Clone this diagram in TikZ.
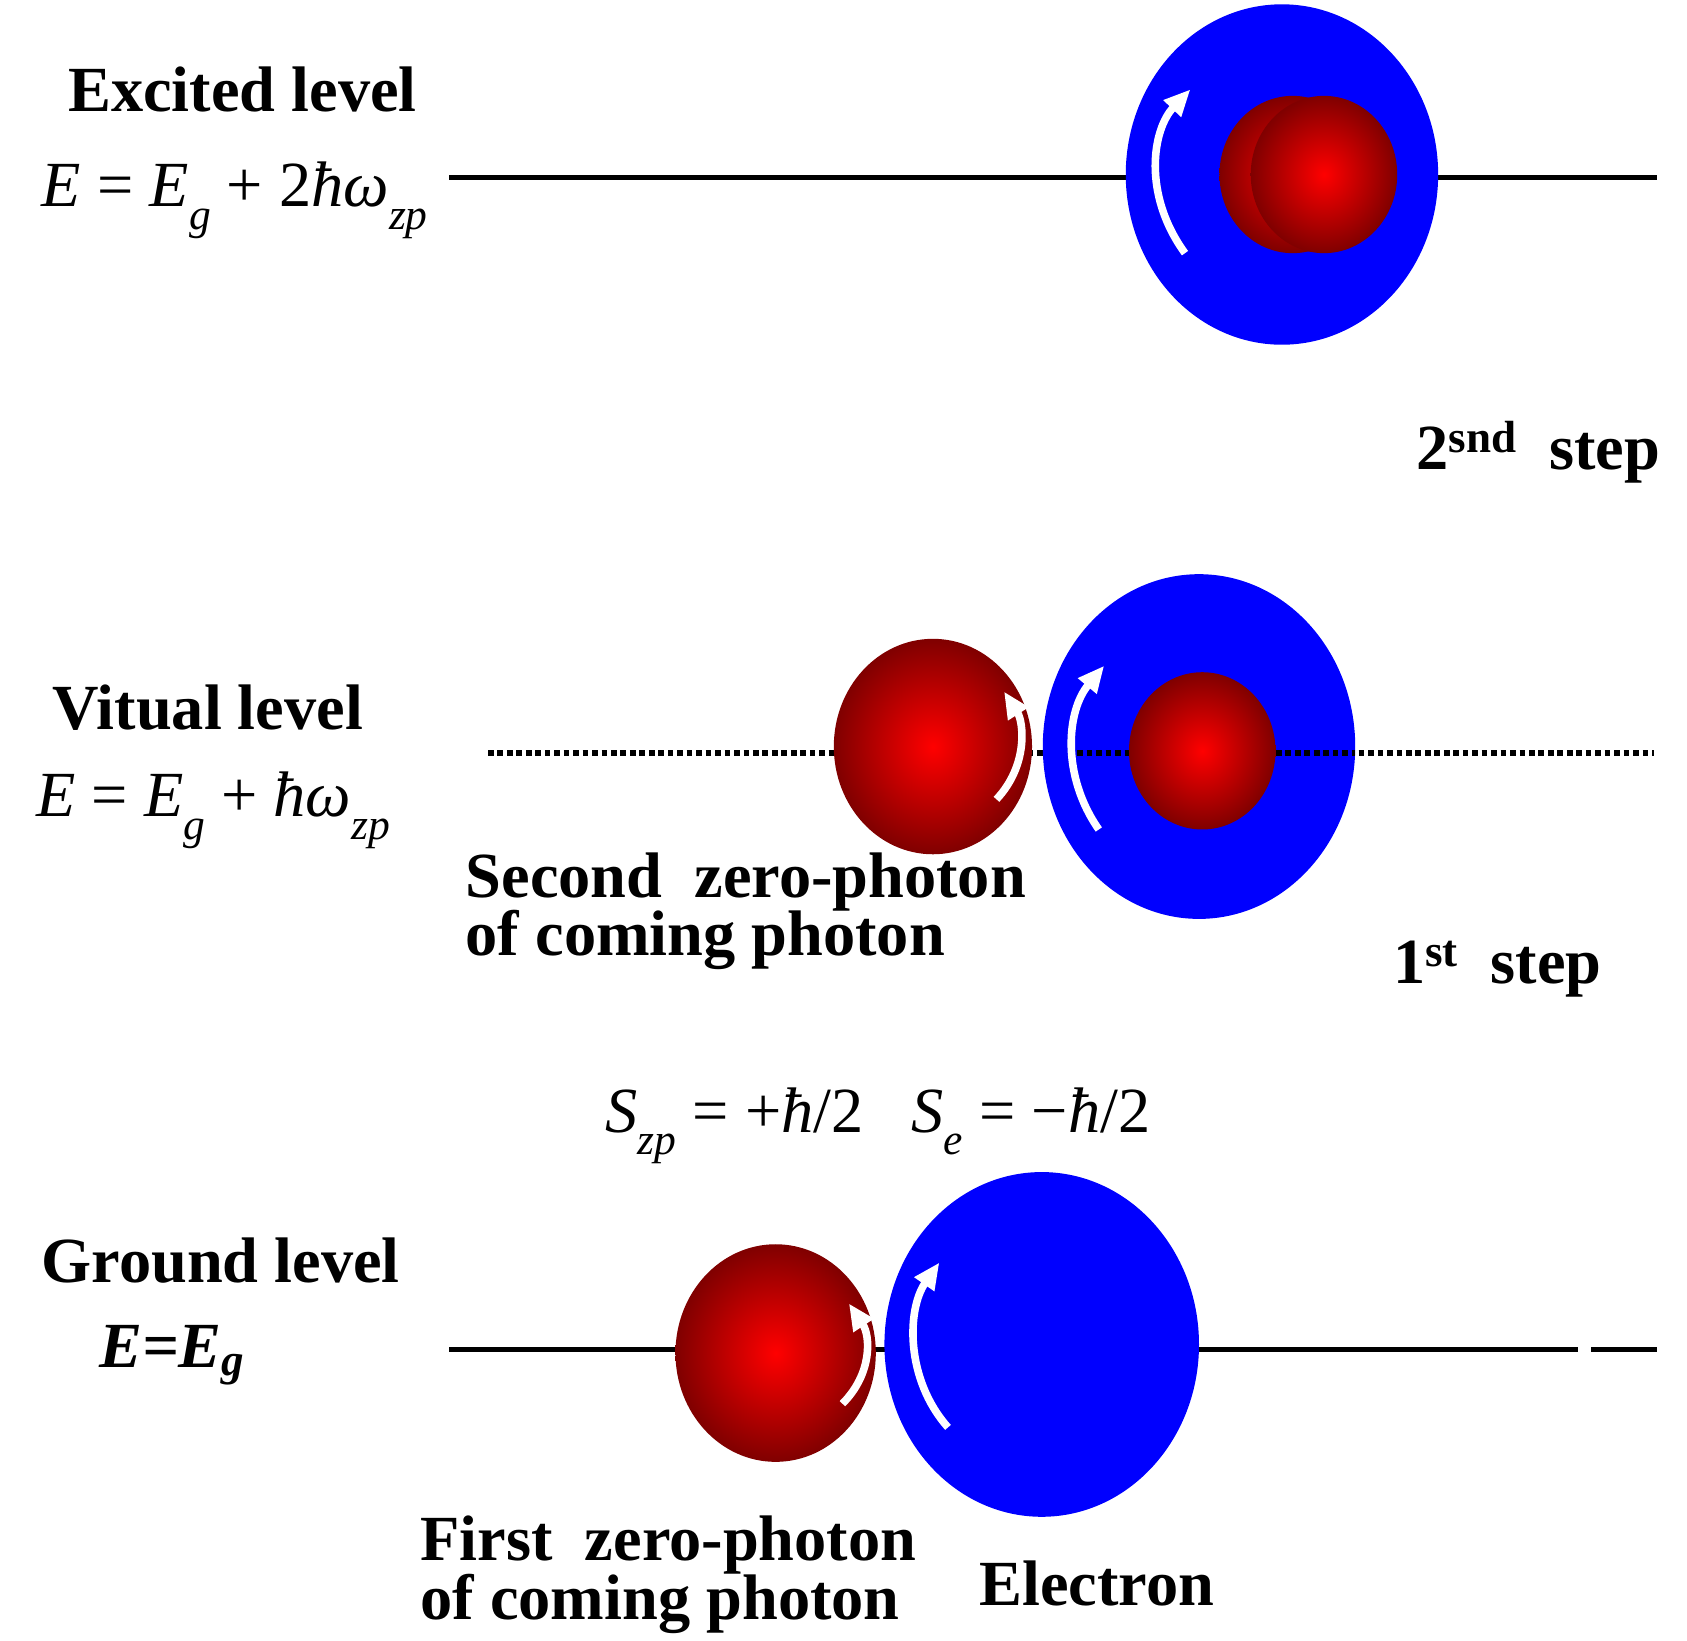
\documentclass[tikz,border=0pt]{standalone}
\usepackage{fontspec}
\setmainfont{Liberation Serif}
\usetikzlibrary{arrows.meta}
\definecolor{dred}{rgb}{0.5,0,0}
\definecolor{eblue}{rgb}{0,0,1}
\newcommand{\ii}[1]{\textit{#1}}
\newcommand{\sbx}[1]{\raisebox{-0.35em}{\fontsize{23}{23}\selectfont\itshape #1}}
\begin{document}
\begin{tikzpicture}[x=0.02cm,y=-0.02cm,
  lbl/.style={font=\fontsize{34}{34}\selectfont\bfseries,inner sep=0},
  eq/.style={font=\fontsize{34}{34}\selectfont,inner sep=0},
  lev/.style={line width=2.6pt,black},
  ball/.style={inner color=red,outer color=dred},
  blob/.style={fill=eblue},
  spin/.style={white,line width=4pt,-{Triangle[length=14pt,width=12pt]}}]
\useasboundingbox (0,0) rectangle (1566,1523);
% top
\draw[lev] (417,165) -- (1538,165);
\fill[blob] (1190,162) ellipse (145 and 158);
\shade[ball] (1200,162) ellipse (68 and 73);
\shade[ball] (1229,162) ellipse (68 and 73);
\draw[spin] (1100,235) .. controls (1060,180) and (1070,120) .. (1105,83);
\node[lbl] (ex) at (225,83) {Excited level};
\node[eq] (exe) at (218,186) {\ii{E} = \ii{E}\sbx{g} + 2\ii{ħω}\sbx{zp}};
\node[lbl] (s2) at (1428,420) {2\textsuperscript{snd}~~step};
% middle
\draw[lev,line width=3pt,dash pattern=on 3pt off 2pt] (453,699) -- (1535,699);
\shade[ball] (866,693) ellipse (92 and 100);
\draw[spin] (925,742) .. controls (955,710) and (950,670) .. (932,642);
\fill[blob] (1113,693) ellipse (145 and 160);
\draw[lev,line width=3pt,dash pattern=on 3pt off 2pt] (1000,699) -- (1258,699);
\shade[ball] (1116,697) ellipse (68 and 73);
\draw[spin] (1020,770) .. controls (985,720) and (990,660) .. (1025,618);
\node[lbl] (vl) at (193,657) {Vitual level};
\node[eq] (vle) at (198,752) {\ii{E} = \ii{E}\sbx{g} + \ii{ħω}\sbx{zp}};
\node[lbl,align=left,anchor=west] (sz) at (432,846) {Second~~zero-photon\\[-3pt]of coming photon};
\node[lbl] (s1) at (1390,900) {1\textsuperscript{st}~~step};
\node[eq] (sp) at (815,1045) {\ii{S}\sbx{zp} = +\ii{ħ}/2~~~\ii{S}\sbx{e} = −\ii{ħ}/2};
% bottom
\draw[lev] (417,1253) -- (1465,1253);
\draw[lev] (1477,1253) -- (1538,1253);
\shade[ball] (720,1256) ellipse (93 and 101);
\draw[spin] (782,1303) .. controls (810,1275) and (808,1240) .. (788,1210);
\fill[blob] (967,1248) ellipse (146 and 160);
\draw[spin] (880,1325) .. controls (840,1280) and (842,1215) .. (872,1172);
\node[lbl] (gl) at (205,1170) {Ground level};
\node[eq,font=\fontsize{34}{34}\selectfont\bfseries\itshape] (gle) at (160,1258) {E=E\textsubscript{g}};
\node[lbl,align=left,anchor=west] (fz) at (390,1462) {First~~zero-photon\\[-3pt]of coming photon};
\node[lbl] (el) at (1018,1470) {Electron};
\end{tikzpicture}
\end{document}
